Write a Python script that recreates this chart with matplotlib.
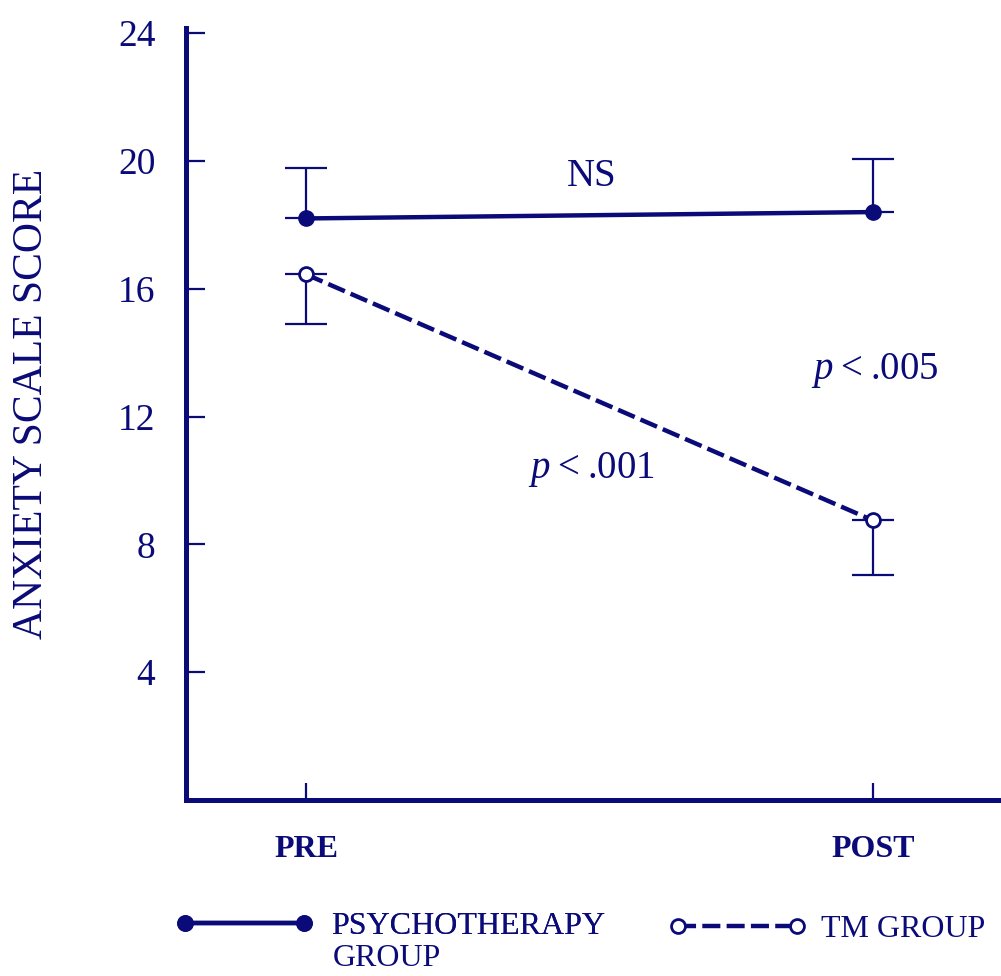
import matplotlib
matplotlib.use("Agg")
import matplotlib.pyplot as plt

# ---- data ----
phases = ["PRE", "POST"]
psych_mean = [18.2, 18.4]
psych_err_up = [1.57, 1.66]
tm_mean = [16.45, 8.75]
tm_err_down = [1.55, 1.7]
y_ticks = [4, 8, 12, 16, 20, 24]
y_label = "ANXIETY SCALE SCORE"
legend_labels = ["PSYCHOTHERAPY", "TM GROUP"]
annotations = [("NS", 0.504, 19.52),
               ("$p$\u2009<\u2009.005", 1.004, 13.45),
               ("$p$\u2009<\u2009.001", 0.504, 10.33)]

NAVY = "#0a0a78"
plt.rcParams["font.family"] = ["Liberation Serif", "DejaVu Serif"]
plt.rcParams["mathtext.fontset"] = "custom"
plt.rcParams["mathtext.rm"] = "Liberation Serif"
plt.rcParams["mathtext.it"] = "Liberation Serif:italic"
plt.rcParams["lines.scale_dashes"] = False

fig = plt.figure(figsize=(10.01, 9.76), dpi=100)
ax = fig.add_axes([186 / 1001, 1 - 800 / 976, (1000 - 186) / 1001, (800 - 28) / 976])

x = list(range(len(phases)))

l1, = ax.plot(x, psych_mean, color=NAVY, lw=3.2, marker="o", ms=11,
              mfc=NAVY, mec=NAVY, solid_capstyle="butt")
l2, = ax.plot(x, tm_mean, color=NAVY, lw=3.2, ls=(0, (13, 4.5)), marker="o", ms=10,
              mfc="white", mec=NAVY, mew=2, zorder=3)

ax.errorbar(x, psych_mean, yerr=[[0, 0], psych_err_up], fmt="none",
            ecolor=NAVY, elinewidth=1.6, capsize=15, capthick=1.6, zorder=1)
ax.errorbar(x, tm_mean, yerr=[tm_err_down, [0, 0]], fmt="none",
            ecolor=NAVY, elinewidth=1.6, capsize=15, capthick=1.6, zorder=1)

ax.set_xlim(-0.2116, 1.224)
ax.set_ylim(0, 24.16)

for s in ["top", "right"]:
    ax.spines[s].set_visible(False)
for s in ["left", "bottom"]:
    ax.spines[s].set_linewidth(3.6)
    ax.spines[s].set_color(NAVY)

ax.set_yticks(y_ticks)
ax.set_yticklabels([str(v) for v in y_ticks])
ax.set_xticks(x)
ax.set_xticklabels(phases, fontweight="bold")
ax.tick_params(axis="y", direction="in", length=14, width=1.6, color=NAVY,
               labelcolor=NAVY, labelsize=27, pad=22)
ax.tick_params(axis="x", direction="in", length=12, width=1.6, color=NAVY,
               labelcolor=NAVY, labelsize=23, pad=25)

ax.set_ylabel(y_label, fontsize=30, color=NAVY, va="center")
ax.yaxis.set_label_coords(-0.189, 0.513)

for txt, tx, ty in annotations:
    ax.text(tx, ty, txt, fontsize=28, color=NAVY, ha="center", va="center")

fs = 23
leg1 = fig.legend([l1], [legend_labels[0]], loc="center left",
                  bbox_to_anchor=(175 / 1001, 1 - 926 / 976), frameon=False,
                  fontsize=fs, numpoints=2, handlelength=4.35, handletextpad=0.55,
                  borderpad=0, borderaxespad=0, labelcolor=NAVY)
leg2 = fig.legend([l2], [legend_labels[1]], loc="center left",
                  bbox_to_anchor=(668 / 1001, 1 - 929 / 976), frameon=False,
                  fontsize=fs, numpoints=2, handlelength=4.35, handletextpad=0.45,
                  borderpad=0, borderaxespad=0, labelcolor=NAVY)
fig.add_artist(leg1)
fig.text(333 / 1001, 1 - 966 / 976, "GROUP", fontsize=fs, color=NAVY,
         ha="left", va="baseline")

fig.savefig("out.png", dpi=100)
